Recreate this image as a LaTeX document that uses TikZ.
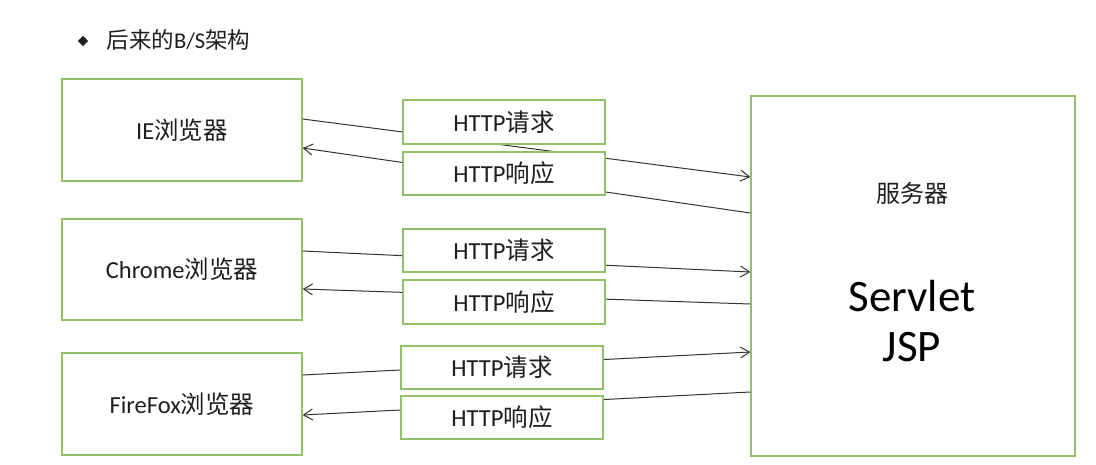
\documentclass[tikz,border=0pt]{standalone}
\usepackage{fontspec}
\setmainfont{Carlito}
\newfontfamily\cjk{Noto Sans CJK SC}
\usetikzlibrary{shapes.geometric,arrows.meta}
\definecolor{boxgreen}{RGB}{146,192,104}
\definecolor{txtgray}{RGB}{30,30,30}
\tikzset{
  browser/.style={draw=boxgreen, line width=1.3pt, minimum width=240pt, minimum height=102pt,
    inner sep=0pt, text=txtgray, font=\fontsize{24.5}{28}\selectfont},
  msgbox/.style={draw=boxgreen, line width=1.3pt, fill=white, minimum width=202pt, minimum height=43pt,
    inner sep=0pt, text=txtgray, font=\fontsize{24.5}{28}\selectfont},
  msg/.style={draw=black!80, line width=1pt, -{Straight Barb[length=9pt,width=11pt,line width=1pt]}}
}
\begin{document}
\begin{tikzpicture}[x=1pt, y=-1pt]
  \useasboundingbox (0,0) rectangle (1096,464);

  \node[diamond, fill=txtgray, inner sep=2.6pt] (bullet) at (83,41) {};
  \node[anchor=west, text=txtgray, font=\fontsize{22.5}{26}\selectfont] (title) at (103,40) {{\cjk 后来的}B/S{\cjk 架构}};

  \begin{scope}
    \node[browser] (ie) at (182,130) {IE{\cjk 浏览器}};
    \node[browser, minimum height=101pt] (chrome) at (182,269.5) {Chrome{\cjk 浏览器}};
    \node[browser] (firefox) at (182,404) {FireFox{\cjk 浏览器}};

    \node[draw=boxgreen, line width=1.3pt, minimum width=324pt, minimum height=360pt, inner sep=0pt] (server) at (913,276) {};
    \node[text=txtgray, font=\fontsize{24}{28}\selectfont\cjk] (servername) at (912,193) {服务器};
    \node[text=black, font=\fontsize{45}{50}\selectfont, align=center] (servertech) at (912,321) {Servlet\\JSP};

    \draw[msg] ([yshift=11pt]ie.east) -- ([yshift=99pt]server.west);
    \draw[msg] ([yshift=63pt]server.west) -- ([yshift=-18pt]ie.east);
    \draw[msg] ([yshift=18.5pt]chrome.east) -- ([yshift=4pt]server.west);
    \draw[msg] ([yshift=-28pt]server.west) -- ([yshift=-19.5pt]chrome.east);
    \draw[msg] ([yshift=29pt]firefox.east) -- ([yshift=-76pt]server.west);
    \draw[msg] ([yshift=-116pt]server.west) -- ([yshift=-11pt]firefox.east);

    \node[msgbox, minimum height=44pt] (iereq) at (504,122) {HTTP{\cjk 请求}};
    \node[msgbox] (ieresp) at (504,173.5) {HTTP{\cjk 响应}};
    \node[msgbox] (chromereq) at (504,250.5) {HTTP{\cjk 请求}};
    \node[msgbox, minimum height=44pt] (chromeresp) at (504,302) {HTTP{\cjk 响应}};
    \node[msgbox] (firefoxreq) at (502,367.5) {HTTP{\cjk 请求}};
    \node[msgbox] (firefoxresp) at (502,417.5) {HTTP{\cjk 响应}};
  \end{scope}
\end{tikzpicture}
\end{document}
